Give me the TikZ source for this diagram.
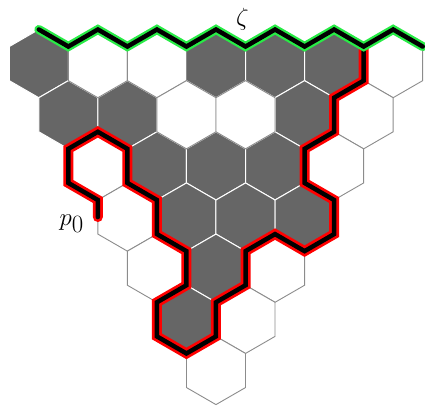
\documentclass[tikz,border=0pt]{standalone}
\usetikzlibrary{calc}
\definecolor{hexgray}{HTML}{666666}
\definecolor{hexline}{HTML}{8C8C8C}
\definecolor{pathgreen}{RGB}{40,235,70}
\begin{document}
\begin{tikzpicture}[x=1pt,y=1pt,
  gcell/.style={fill=hexgray,draw=white,line width=1pt},
  wcell/.style={fill=white,draw=hexline,line width=0.9pt},
  greenband/.style={draw=pathgreen,line width=9pt,line cap=round},
  redband/.style={draw=red,line width=10pt,line cap=round},
  blackline/.style={draw=black,line width=4.5pt,line cap=round},
  lab/.style={inner sep=0pt,font=\fontsize{33}{36}\selectfont}]
\useasboundingbox (0,0) rectangle (425,410);
\def\R{34.1}
% centres and corners of the hexagons
\foreach \r in {0,...,6}{
  \pgfmathtruncatemacro\n{6-\r}
  \foreach \i in {0,...,\n}{
    \coordinate (c-\r-\i) at ({38.8+29.53*\r+59.06*\i},{346.4-51.15*\r});
    \foreach \k/\a in {0/90,1/30,2/-30,3/-90,4/-150,5/150}
      \coordinate (v-\r-\i-\k) at ($(c-\r-\i)+(\a:\R)$);
  }
}
% grey hexagons
\foreach \r/\i in {0/0,0/3,0/4,0/5,1/0,1/1,1/4,2/1,2/2,2/3,3/1,3/2,3/3,4/1,5/0}
  \draw[gcell] (v-\r-\i-0) -- (v-\r-\i-1) -- (v-\r-\i-2) -- (v-\r-\i-3) -- (v-\r-\i-4) -- (v-\r-\i-5) -- cycle;
% white hexagons
\foreach \r/\i in {0/1,0/2,0/6,1/2,1/3,1/5,2/0,2/4,3/0,4/0,4/2,5/1,6/0}
  \draw[wcell] (v-\r-\i-0) -- (v-\r-\i-1) -- (v-\r-\i-2) -- (v-\r-\i-3) -- (v-\r-\i-4) -- (v-\r-\i-5) -- cycle;
\coordinate (p0end) at ($(c-3-0)+(180:29.53)$);
\def\redline{(v-0-6-5) -- (v-0-6-4) -- (v-1-5-5) -- (v-1-5-4) -- (v-2-4-5) -- (v-2-4-4) -- (v-2-4-3) -- (v-3-3-2) -- (v-3-3-3) -- (v-3-3-4) -- (v-3-2-3) -- (v-4-2-4) -- (v-5-1-5) -- (v-5-1-4) -- (v-5-0-3) -- (v-5-0-4) -- (v-5-0-5) -- (v-5-0-0) -- (v-4-1-5) -- (v-3-1-4) -- (v-3-1-5) -- (v-2-1-4) -- (v-2-0-1) -- (v-2-0-0) -- (v-2-0-5) -- (v-2-0-4) -- (v-2-0-3) -- (p0end)}
\def\greenline{(v-0-0-0) -- (v-0-0-1) -- (v-0-1-0) -- (v-0-1-1) -- (v-0-2-0) -- (v-0-2-1) -- (v-0-3-0) -- (v-0-3-1) -- (v-0-4-0) -- (v-0-4-1) -- (v-0-5-0) -- (v-0-5-1) -- (v-0-6-0) -- (v-0-6-1)}
\draw[redband] \redline;
\draw[blackline] \redline;
\draw[greenband] \greenline;
\draw[blackline] \greenline;
\node[lab,anchor=base] (zeta) at (242.5,384.4) {$\zeta$};
\node[lab,anchor=base east] (p0) at (84,185) {$p_0$};
\end{tikzpicture}
\end{document}
